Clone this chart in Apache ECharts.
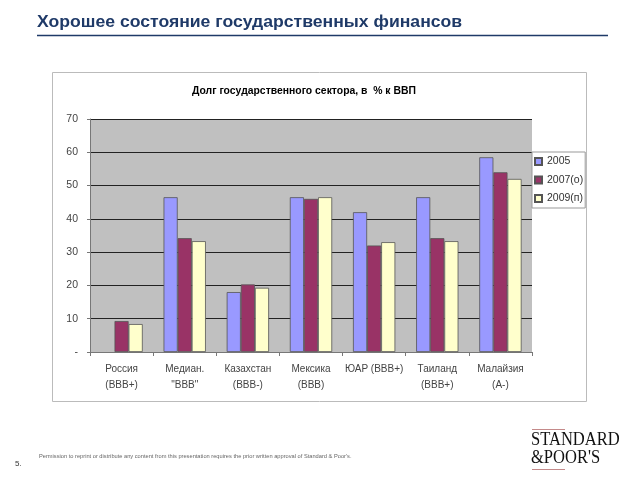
<!DOCTYPE html>
<html><head><meta charset="utf-8">
<script src="https://cdn.jsdelivr.net/npm/echarts@6/dist/echarts.min.js"></script>
<style>html,body{margin:0;padding:0;background:#fff}#c{width:640px;height:480px}</style>
</head><body><div id="c"></div>
<script>
const categories = ["Россия\n(BBB+)", "Медиан.\n\"BBB\"", "Казахстан\n(BBB-)", "Мексика\n(BBB)", "ЮАР (BBB+)", "Таиланд\n(BBB+)", "Малайзия\n(A-)"];
const seriesNames = ["2005", "2007(о)", "2009(п)"];
const v2005 = [null, 46.5, 18.0, 46.5, 42.0, 46.5, 58.5];
const v2007 = [9.3, 34.2, 20.3, 46.0, 32.0, 34.2, 54.0];
const v2009 = [8.4, 33.3, 19.3, 46.5, 33.0, 33.3, 52.0];
const yTicks = [0, 10, 20, 30, 40, 50, 60, 70];

const colors = ['#9999FF', '#993366', '#FFFFCC'];
const chart = echarts.init(document.getElementById('c'), null, {renderer: 'canvas'});
const font = 'Arial, "Liberation Sans", sans-serif';
const serif = '"Liberation Serif", "DejaVu Serif", serif';
function mk(name, data, i) {
  return {
    name: name, type: 'bar', data: data, barGap: '0%', barCategoryGap: '33%',
    itemStyle: {color: colors[i], borderColor: '#555', borderWidth: 0.8},
    emphasis: {disabled: true}, animation: false
  };
}
chart.setOption({
  animation: false,
  graphic: [
    {type: 'rect', shape: {x: 52.5, y: 72.5, width: 534, height: 329}, style: {fill: '#fff', stroke: '#bbb', lineWidth: 1}, z: -10},
    {type: 'text', x: 37, y: 15, scaleX: 1.1, style: {text: 'Хорошее состояние государственных финансов', font: 'bold 16px ' + font, fill: '#1F3A68'}},
    {type: 'line', shape: {x1: 37, y1: 35.5, x2: 608, y2: 35.5}, style: {stroke: '#1F3A68', lineWidth: 1.5}},
    {type: 'text', left: 192, top: 86, style: {text: 'Долг государственного сектора, в  % к ВВП', font: 'bold 10.4px ' + font, fill: '#000'}},
    {type: 'text', left: 15, top: 460, style: {text: '5.', font: '8px ' + font, fill: '#333'}},
    {type: 'text', left: 39, top: 453, style: {text: 'Permission to reprint or distribute any content from this presentation requires the prior written approval of Standard & Poor\'s.', font: '5.7px ' + font, fill: '#666'}},
    {type: 'line', shape: {x1: 532, y1: 429.5, x2: 565, y2: 429.5}, style: {stroke: '#C48A8A', lineWidth: 1}},
    {type: 'text', x: 531, y: 431, scaleX: 0.87, style: {text: 'STANDARD', font: '19px ' + serif, fill: '#111'}},
    {type: 'text', x: 531, y: 449, scaleX: 0.87, style: {text: '&POOR\'S', font: '19px ' + serif, fill: '#111'}},
    {type: 'line', shape: {x1: 532, y1: 469.5, x2: 565, y2: 469.5}, style: {stroke: '#C48A8A', lineWidth: 1}}
  ],
  grid: {left: 90, right: 108, top: 119, bottom: 128, show: true, backgroundColor: '#C0C0C0', borderWidth: 0},
  legend: {
    data: seriesNames, orient: 'vertical', left: 532, top: 152,
    backgroundColor: '#fff', borderColor: '#999', borderWidth: 1, padding: [4, 2, 4, 2], itemGap: 7.5,
    itemWidth: 7, itemHeight: 7, icon: 'rect',
    textStyle: {fontFamily: font, fontSize: 10.5, color: '#333'}
  },
  xAxis: {
    type: 'category', data: categories,
    axisLine: {lineStyle: {color: '#777'}},
    axisTick: {show: true, length: 4, lineStyle: {color: '#777'}},
    axisLabel: {fontFamily: font, fontSize: 10, color: '#444', lineHeight: 16, margin: 9, interval: 0}
  },
  yAxis: {
    type: 'value', min: 0, max: 70, interval: 10,
    axisLine: {show: true, lineStyle: {color: '#777'}},
    axisTick: {show: true, length: 3, lineStyle: {color: '#777'}},
    splitLine: {lineStyle: {color: '#222', width: 1}},
    axisLabel: {fontFamily: font, fontSize: 10.5, color: '#444', margin: 12,
      formatter: function (v) { return yTicks.indexOf(v) === 0 ? '-' : String(v); }}
  },
  series: [mk(seriesNames[0], v2005, 0), mk(seriesNames[1], v2007, 1), mk(seriesNames[2], v2009, 2)]
});
</script></body></html>
